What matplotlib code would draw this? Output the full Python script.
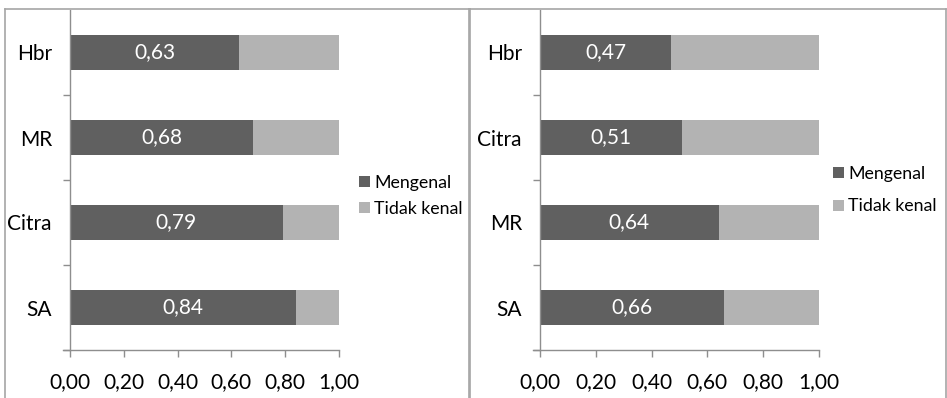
import matplotlib.pyplot as plt
from matplotlib.lines import Line2D

plt.rcParams['font.family'] = ['Lato', 'DejaVu Sans']

# left chart (bottom to top)
cats_left = ['SA', 'Citra', 'MR', 'Hbr']
kenal_left = [0.84, 0.79, 0.68, 0.63]
# right chart (bottom to top)
cats_right = ['SA', 'MR', 'Citra', 'Hbr']
kenal_right = [0.66, 0.64, 0.51, 0.47]

xticks = [0.0, 0.2, 0.4, 0.6, 0.8, 1.0]
xtick_labels = ['0,00', '0,20', '0,40', '0,60', '0,80', '1,00']
series_names = ['Mengenal', 'Tidak kenal']

DARK = '#606060'
LIGHT = '#b3b3b3'
AXIS = '#8e8e8e'
W, H = 947, 398
FS = 15


def draw_panel(ax, cats, kenal):
    pos = list(range(len(cats)))
    tidak = [1 - v for v in kenal]
    ax.barh(pos, kenal, height=0.41, color=DARK, label=series_names[0])
    ax.barh(pos, tidak, left=kenal, height=0.41, color=LIGHT, label=series_names[1])
    for p, v in zip(pos, kenal):
        ax.text(v / 2, p, f'{v:.2f}'.replace('.', ','), color='white',
                ha='center', va='center', fontsize=FS)
    ax.set_xlim(0, 1)
    ax.set_ylim(-0.5, len(cats) - 0.5)
    ax.set_xticks(xticks)
    ax.set_xticklabels(xtick_labels)
    ax.set_yticks(pos)
    ax.set_yticklabels(cats)
    ax.set_yticks([p - 0.5 for p in pos], minor=True)
    ax.tick_params(axis='y', which='major', length=0, pad=13, labelsize=FS)
    ax.tick_params(axis='y', which='minor', length=5, width=1, color=AXIS)
    ax.tick_params(axis='x', length=5, width=1, color=AXIS, pad=11, labelsize=FS)
    for s in ['top', 'right']:
        ax.spines[s].set_visible(False)
    for s in ['left', 'bottom']:
        ax.spines[s].set_color(AXIS)
        ax.spines[s].set_linewidth(1)
    ax.spines['bottom'].set_bounds(-0.025, 1)


fig = plt.figure(figsize=(W / 100, H / 100), dpi=100)

ax1 = fig.add_axes([70 / W, 1 - 350 / H, 269 / W, 340 / H])
ax2 = fig.add_axes([540 / W, 1 - 350 / H, 279 / W, 340 / H])
draw_panel(ax1, cats_left, kenal_left)
draw_panel(ax2, cats_right, kenal_right)

# legends to the right of each chart
for ax, lx, ly, sp in [(ax1, 359, 196, 0.55), (ax2, 833, 190, 0.95)]:
    h, l = ax.get_legend_handles_labels()
    fig.legend(h, l, loc='center left', bbox_to_anchor=(lx / W, 1 - ly / H),
               frameon=False, fontsize=12.8, handlelength=0.6, handleheight=0.6,
               handletextpad=0.25, labelspacing=sp, borderpad=0, borderaxespad=0)

# panel frames
frame = dict(color='#a6a6a6', lw=1.2, transform=fig.transFigure)
for x0, x1 in [(5, 470), (469, 946)]:
    fig.add_artist(Line2D([x0 / W, x1 / W], [1 - 9 / H, 1 - 9 / H], **frame))
    fig.add_artist(Line2D([x0 / W, x0 / W], [0, 1 - 9 / H], **frame))
    fig.add_artist(Line2D([x1 / W, x1 / W], [0, 1 - 9 / H], **frame))

fig.savefig('out.png', dpi=100)
